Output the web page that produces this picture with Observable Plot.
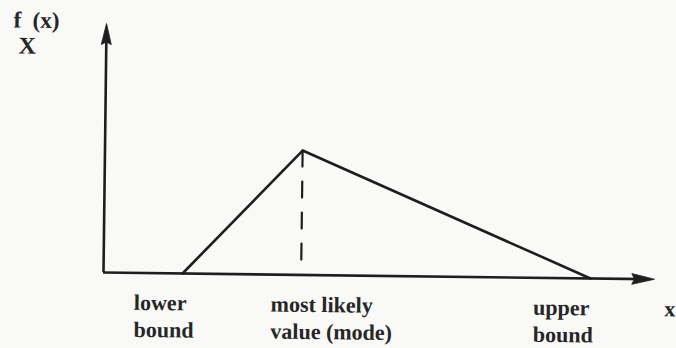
<!DOCTYPE html>
<html><head><meta charset="utf-8">
<script src="https://cdn.jsdelivr.net/npm/d3@7"></script>
<script src="https://cdn.jsdelivr.net/npm/@observablehq/plot@0.6"></script>
<style>html,body{margin:0;padding:0;background:#f9f9f7;} #chart svg{display:block;}</style>
</head><body><div id="chart"></div>
<script>
// Triangular distribution: lower bound, mode, upper bound
const pointNames = ["lower bound", "mode", "upper bound"];
const pointX = [1, 2.5, 6.16];
const pointDensity = [0, 0.3876, 0];
const axisEndX = 6.97;
const axisTopY = 0.776;
const dashBottomY = 0.037;
const labelTexts = ["lower\nbound", "most likely\nvalue (mode)", "upper\nbound", "x"];
const labelX = [0.39, 2.12, 5.44, 7.10];
const labelLines = [2, 2, 2, 1];
const yLabelTexts = ["f\u2002(x)", "X"];
const yLabelX = [-1.177, -1.11];
const yLabelY = [0.760, 0.679];
const yLabelSize = [23, 24];

const ink = "#1e1e1e";
const textInk = "#262626";
const tri = pointX.map((x, i) => ({x, y: pointDensity[i], name: pointNames[i]}));
const modeIdx = 1;
const dash = [{x: pointX[modeIdx], y: pointDensity[modeIdx]}, {x: pointX[modeIdx], y: dashBottomY}];
const labels = labelTexts.map((t, i) => ({t, x: labelX[i], lines: labelLines[i]}));
const yLabels = yLabelTexts.map((t, i) => ({t, x: yLabelX[i], y: yLabelY[i], s: yLabelSize[i]}));

const arrowHead = {
  draw(ctx, size) {
    const r = Math.sqrt(size / Math.PI);
    ctx.moveTo(0, 0);
    ctx.lineTo(-r, 4.2 * r);
    ctx.lineTo(0, 3.7 * r);
    ctx.lineTo(r, 4.2 * r);
    ctx.closePath();
  }
};

const font = "'Liberation Serif', 'Times New Roman', serif";
const chart = Plot.plot({
  width: 676, height: 348,
  x: {domain: [0, axisEndX], range: [103, 654], axis: null},
  y: {domain: [0, axisTopY], range: [272, 23], axis: null},
  style: {background: "transparent", fontFamily: font},
  marks: [
    Plot.ruleY([0], {x1: 0, x2: axisEndX - 0.1, stroke: ink, strokeWidth: 2.6}),
    Plot.ruleX([0], {y1: 0, y2: axisTopY - 0.03, stroke: ink, strokeWidth: 2.6}),
    Plot.dot([{x: 0, y: axisTopY}], {x: "x", y: "y", symbol: arrowHead, r: 5, fill: ink, stroke: ink, strokeWidth: 0.8}),
    Plot.dot([{x: axisEndX, y: 0}], {x: "x", y: "y", symbol: arrowHead, r: 5.4, rotate: 90, fill: ink, stroke: ink, strokeWidth: 0.8}),
    Plot.line(tri, {x: "x", y: "y", stroke: ink, strokeWidth: 2.6, strokeLinejoin: "round"}),
    Plot.line(dash, {x: "x", y: "y", stroke: ink, strokeWidth: 2.2, strokeDasharray: "16,15"}),
    Plot.text(labels.filter(d => d.lines === 2), {x: "x", y: () => 0, text: "t", dy: 64, textAnchor: "start", lineAnchor: "bottom", lineHeight: 1.23, fontSize: 22, fontWeight: "bold", fill: textInk}),
    Plot.text(labels.filter(d => d.lines === 1), {x: "x", y: () => 0, text: "t", dy: 37, textAnchor: "start", lineAnchor: "bottom", fontSize: 22, fontWeight: "bold", fill: textInk}),
    Plot.text(yLabels, {x: "x", y: "y", text: "t", fontSize: d => d.s, textAnchor: "start", lineAnchor: "bottom", fontWeight: "bold", fill: textInk})
  ]
});

// the scanned figure is rotated very slightly clockwise
const groups = Array.from(chart.children).filter(el => el.tagName.toLowerCase() === "g");
if (groups.length) {
  const rot = document.createElementNS("http://www.w3.org/2000/svg", "g");
  rot.setAttribute("transform", "rotate(0.7, 103, 272)");
  groups[0].parentNode.insertBefore(rot, groups[0]);
  groups.forEach(g => rot.appendChild(g));
}
document.getElementById("chart").appendChild(chart);
</script></body></html>
